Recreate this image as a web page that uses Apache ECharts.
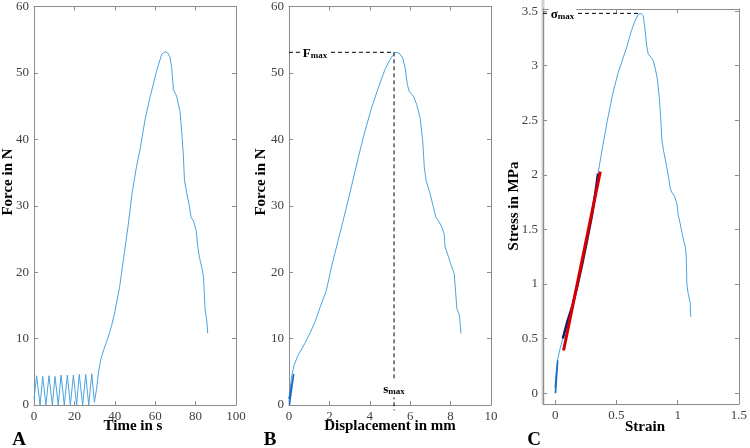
<!DOCTYPE html>
<html>
<head>
<meta charset="utf-8">
<script src="https://cdn.jsdelivr.net/npm/echarts@6/dist/echarts.min.js"></script>
<style>html,body{margin:0;padding:0;background:#fff}#c{width:750px;height:448px}</style>
</head>
<body>
<div id="c"></div>
<script>
// ---------- Panel A: force vs time ----------
const timeA = [0,1.3,3.0,4.3,5.9,7.4,9.1,10.4,12.0,13.4,15.0,16.5,18.0,19.5,21.1,22.4,24.1,25.6,27.1,28.6,29.9,31.0,32.0,33.0,34.5,36.5,38.3,40.0,42.4,44.4,46.5,48.7,50.7,52.5,55.0,57.4,60.7,63.2,64.9,66.2,67.3,68.2,69.0,70.6,72.3,73.1,73.9,74.5,75.7,77.0,77.8,79.0,80.3,81.1,81.9,83.0,83.9,84.7,85.5,86.0];
const forceA = [0.9,4.4,0,4.3,0,4.4,0,4.3,0,4.5,0,4.5,0,4.5,0,4.6,0,4.6,0,4.7,0.4,2.5,5.0,6.8,8.3,10.0,11.8,14.0,17.8,22.2,26.8,32.2,35.8,38.5,43.0,46.3,50.3,52.8,53.2,53.0,52.4,50.7,47.5,46.5,44.2,41.2,37.8,33.8,31.8,29.8,28.2,27.7,26.2,23.8,22.2,20.8,19.3,14.3,12.8,10.8];
const ticksTimeA = [0,20,40,60,80,100];
const ticksForce = [0,10,20,30,40,50,60];

// ---------- Panel B: force vs displacement ----------
const dispCycB = [0,0.22,0.02,0.21,0.02,0.22,0.02,0.21,0.02,0.22,0.02,0.22,0.02,0.22,0.02,0.23,0.02,0.23,0.02,0.23];
const forceCycB = [0.9,4.4,0,4.3,0,4.4,0,4.3,0,4.5,0,4.5,0,4.5,0,4.6,0,4.6,0,4.7];
const dispB = [0.0,0.12,0.25,0.45,0.78,1.05,1.3,1.55,1.85,2.1,2.43,2.76,3.1,3.43,3.76,4.09,4.42,4.75,5.0,5.25,5.45,5.63,5.75,5.86,5.96,6.16,6.32,6.49,6.62,6.7,6.79,6.99,7.15,7.27,7.4,7.57,7.68,7.73,7.9,8.06,8.18,8.28,8.31,8.44,8.51];
const forceB = [0.4,4.1,6.0,7.5,9.25,10.9,12.6,14.8,17.25,20.75,24.75,28.75,33.0,37.25,41.25,44.75,47.75,50.5,52.0,53.1,53.0,52.25,50.75,48.25,47.15,46.5,45.25,43.25,39.75,35.75,33.75,31.75,29.75,28.25,27.75,26.75,25.75,23.75,22.25,20.75,19.75,15.75,14.5,13.5,10.75];
const ticksDisp = [0,2,4,6,8,10];
const fMax = 53.1;
const sMax = 5.2;

// ---------- Panel C: stress vs strain ----------
const strainCycC = [0,0.018,0.002,0.018,0.002,0.019,0.002,0.019,0.002,0.02];
const stressCycC = [0.05,0.28,0,0.28,0,0.29,0,0.29,0,0.30];
const strainC = [0.0,0.008,0.02,0.04,0.062,0.10,0.14,0.18,0.22,0.26,0.30,0.33,0.349,0.386,0.426,0.469,0.512,0.539,0.584,0.619,0.651,0.678,0.70,0.718,0.732,0.745,0.759,0.78,0.799,0.818,0.834,0.85,0.861,0.871,0.885,0.906,0.925,0.941,0.952,0.973,0.995,1.005,1.021,1.043,1.062,1.07,1.075,1.086,1.102,1.107];
const stressC = [0.0,0.18,0.31,0.41,0.50,0.66,0.80,0.98,1.18,1.40,1.63,1.85,2.01,2.25,2.5,2.74,2.93,3.02,3.17,3.31,3.41,3.47,3.48,3.46,3.35,3.2,3.11,3.08,3.05,2.97,2.88,2.71,2.53,2.32,2.22,2.1,1.98,1.87,1.84,1.81,1.73,1.63,1.55,1.43,1.34,1.25,1.0,0.91,0.83,0.70];
const strainFit = [0.062,0.10,0.14,0.18,0.22,0.26,0.30,0.33,0.349];
const stressFit = [0.50,0.66,0.80,0.98,1.18,1.40,1.63,1.85,2.01];
const strainLin = [0.068,0.368];
const stressLin = [0.39,2.03];
const ticksStrain = [0,0.5,1,1.5];
const ticksStress = [0,0.5,1,1.5,2,2.5,3,3.5];
const sigmaMax = 3.48;
const strainAtMax = 0.70;

const zip = (xs, ys) => xs.map((x, i) => [x, ys[i]]);

const AX = '#8c8c8c';
const LBL = {fontFamily: '"Liberation Serif", serif', fontSize: 13, color: '#404040'};

function xAxes(gi, min, max, ticks) {
  const base = {gridIndex: gi, type: 'value', min: min, max: max, splitLine: {show: false},
    axisLine: {show: true, onZero: false, lineStyle: {color: AX, width: 1}}};
  return [
    Object.assign({}, base, {position: 'bottom',
      axisTick: {show: true, inside: true, length: 4, customValues: ticks, lineStyle: {color: AX}},
      axisLabel: Object.assign({show: true, margin: 5, customValues: ticks, formatter: v => String(v)}, LBL)}),
    Object.assign({}, base, {position: 'top',
      axisTick: {show: true, inside: true, length: 4, customValues: ticks, lineStyle: {color: AX}},
      axisLabel: {show: false}})
  ];
}
function yAxes(gi, min, max, ticks) {
  const base = {gridIndex: gi, type: 'value', min: min, max: max, splitLine: {show: false},
    axisLine: {show: true, onZero: false, lineStyle: {color: AX, width: 1}}};
  return [
    Object.assign({}, base, {position: 'left',
      axisTick: {show: true, inside: true, length: 4, customValues: ticks, lineStyle: {color: AX}},
      axisLabel: Object.assign({show: true, margin: 5, customValues: ticks, formatter: v => String(v)}, LBL)}),
    Object.assign({}, base, {position: 'right',
      axisTick: {show: true, inside: true, length: 4, customValues: ticks, lineStyle: {color: AX}},
      axisLabel: {show: false}})
  ];
}

const BLUE = '#4aa3e0';
const DARKBLUE = '#1f6fc0';
const lineS = (xi, yi, data, color, width, z, extra) => Object.assign({
  type: 'line', xAxisIndex: xi, yAxisIndex: yi, data: data, showSymbol: false, symbol: 'none',
  lineStyle: {color: color, width: width}, silent: true, animation: false, z: z || 2, clip: false
}, extra || {});
const dashS = (xi, yi, data) => lineS(xi, yi, data, '#000', 1, 3, {lineStyle: {color: '#000', width: 1, type: [4, 3]}});
const SERIF = '"Liberation Serif", serif';
const labelS = (xi, yi, pt, sym) => ({
  type: 'scatter', xAxisIndex: xi, yAxisIndex: yi, data: [pt], symbol: 'circle', symbolSize: 0,
  itemStyle: {color: 'rgba(255,255,255,0)'},
  silent: true, animation: false, z: 10, clip: false,
  label: {show: true, position: 'inside', opacity: 1, formatter: '{a|' + sym + '}{b|max}', backgroundColor: '#fff', padding: [1, 2],
    rich: {
      a: {fontFamily: SERIF, fontWeight: 'bold', fontSize: 13, color: '#000', lineHeight: 16, verticalAlign: 'bottom'},
      b: {fontFamily: SERIF, fontWeight: 'bold', fontSize: 9, color: '#000', lineHeight: 12, verticalAlign: 'bottom'}
    }}
});

const TF = 'bold 15px "Liberation Serif", serif';
const txt = (t, x, y, rot, font) => ({type: 'text', x: x, y: y, rotation: rot || 0, silent: true, z: 20,
  style: {text: t, x: 0, y: 0, align: 'center', verticalAlign: 'middle', font: font || TF, fill: '#000'}});

const option = {
  backgroundColor: '#fff',
  animation: false,
  grid: [
    {left: 34, top: 5, width: 202, height: 400},
    {left: 289, top: 5, width: 202, height: 400},
    {left: 543, top: 9, width: 198, height: 395}
  ],
  xAxis: [].concat(xAxes(0, 0, 100, ticksTimeA), xAxes(1, 0, 10, ticksDisp), xAxes(2, -0.1, 1.5, ticksStrain)),
  yAxis: [].concat(yAxes(0, 0, 60, ticksForce), yAxes(1, 0, 60, ticksForce), yAxes(2, -0.1, 3.52, ticksStress)),
  series: [
    lineS(0, 0, zip(timeA, forceA), BLUE, 1),
    lineS(2, 2, zip(dispB, forceB), BLUE, 1),
    lineS(2, 2, zip(dispCycB, forceCycB), DARKBLUE, 1.6, 3),
    dashS(2, 2, [[-0.35, fMax], [sMax, fMax]]),
    dashS(2, 2, [[sMax, fMax], [sMax, -0.8]]),
    labelS(2, 2, [1.29, fMax], 'F'),
    labelS(2, 2, [sMax, 2.5], 's'),
    lineS(4, 4, zip(strainC, stressC), BLUE, 1),
    lineS(4, 4, zip(strainCycC, stressCycC), DARKBLUE, 1.6, 3),
    lineS(4, 4, zip(strainFit, stressFit), '#16166a', 2.5, 4),
    lineS(4, 4, zip(strainLin, stressLin), '#d40000', 3, 5),
    dashS(4, 4, [[-0.1, sigmaMax], [strainAtMax, sigmaMax]]),
    labelS(4, 4, [0.06, sigmaMax], 'σ')
  ],
  graphic: [
    {type: 'rect', shape: {x: 541.5, y: 0, width: 3, height: 404}, style: {fill: '#cfcfcf'}, silent: true, z: 0},
    txt('Force in N', 8, 182, Math.PI / 2),
    txt('Force in N', 261, 182, Math.PI / 2),
    txt('Stress in MPa', 514, 206, Math.PI / 2),
    txt('Time in s', 133, 426),
    txt('Displacement in mm', 390, 426),
    txt('Strain', 645, 427),
    txt('A', 19, 440, 0, 'bold 19px "Liberation Serif", serif'),
    txt('B', 270, 440, 0, 'bold 19px "Liberation Serif", serif'),
    txt('C', 534, 440, 0, 'bold 19px "Liberation Serif", serif')
  ]
};

const chart = echarts.init(document.getElementById('c'), null, {renderer: 'canvas'});
chart.setOption(option);
</script>
</body>
</html>
